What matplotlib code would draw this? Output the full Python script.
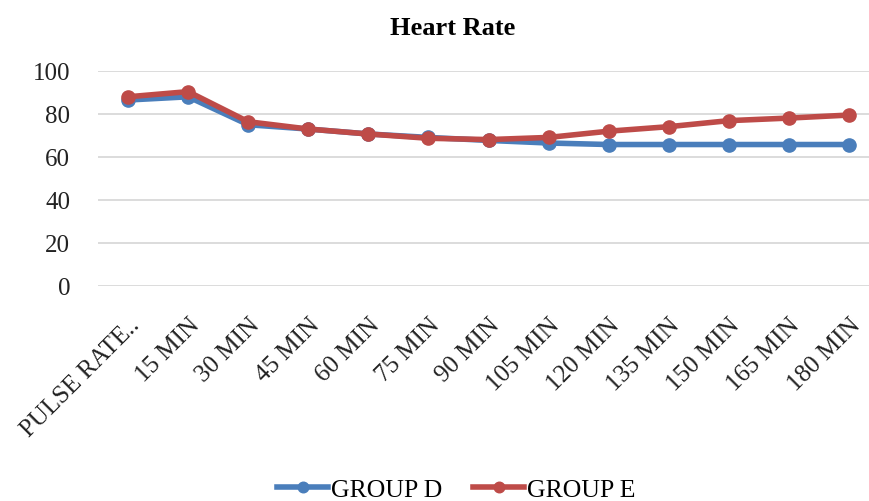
import matplotlib.pyplot as plt
import numpy as np

labels = ['PULSE RATE..', '15 MIN', '30 MIN', '45 MIN', '60 MIN', '75 MIN', '90 MIN',
          '105 MIN', '120 MIN', '135 MIN', '150 MIN', '165 MIN', '180 MIN']
group_d = [86.5, 88, 75, 73, 70.7, 69.1, 67.7, 66.5, 65.8, 65.8, 65.8, 65.8, 65.8]
group_e = [88, 90.4, 76.4, 73, 70.7, 68.7, 68.1, 69.1, 72, 74.1, 76.9, 78.1, 79.5]

BLUE = '#4a7ebb'
RED = '#be4b48'

plt.rcParams['font.family'] = ['Liberation Serif', 'DejaVu Serif']

fig = plt.figure(figsize=(8.69, 5.02), dpi=100)
ax = fig.add_axes([0.1128, 0.4283, 0.8987, 0.4283])

x = np.arange(len(labels))
ax.plot(x, group_d, color=BLUE, lw=4, marker='o', ms=9.5, label='GROUP D')
ax.plot(x, group_e, color=RED, lw=4, marker='o', ms=9.5, label='GROUP E')

ax.set_xlim(-0.5, len(labels) - 0.5)
ax.set_ylim(0, 100)
ax.set_yticks(range(0, 101, 20))
ax.set_xticks(x)
ax.set_xticklabels(labels, rotation=45, ha='right', rotation_mode='anchor')
ax.tick_params(axis='both', length=0, labelsize=18, colors='#222222')
ax.tick_params(axis='y', pad=20)
ax.tick_params(axis='x', pad=20)
ax.grid(axis='y', color='#d9d9d9', lw=1.3)
ax.set_axisbelow(True)
for s in ax.spines.values():
    s.set_visible(False)

fig.text(0.521, 0.944, 'Heart Rate', ha='center', va='center', fontsize=19, fontweight='bold')

fig.legend(loc='center', bbox_to_anchor=(0.525, 0.022), ncol=2, frameon=False,
           fontsize=18.5, handlelength=2.0, handletextpad=0.1, columnspacing=1.2,
           markerscale=0.8)

fig.savefig('out.png', dpi=100)
